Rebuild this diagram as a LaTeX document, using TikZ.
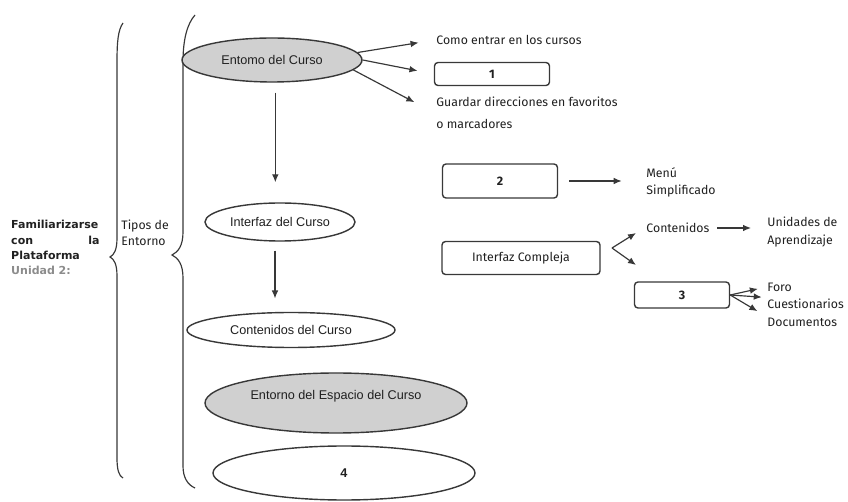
\documentclass[tikz,border=0pt]{standalone}
\usepackage{fontspec}
\setmainfont{Liberation Sans}
\newfontfamily\humfont{Fira Sans}
\newfontfamily\anchafont{DejaVu Sans}
\usetikzlibrary{arrows.meta,positioning,shapes.geometric}
\definecolor{lineGray}{HTML}{383838}
\definecolor{fillGray}{HTML}{D0D0D0}
\definecolor{textGray}{HTML}{202020}
\definecolor{softGray}{HTML}{8C8C8C}
\tikzset{
    elipse/.style={
        ellipse,
        draw=lineGray,
        line width=1.2pt,
        fill=white,
        align=center,
        inner sep=0pt,
        text=textGray,
        font=\fontsize{10.8}{13}\selectfont
    },
    elipsegris/.style={
        elipse,
        fill=fillGray
    },
    caja/.style={
        rectangle,
        rounded corners=3pt,
        draw=lineGray,
        line width=1.2pt,
        align=center,
        inner sep=0pt,
        text=textGray,
        font=\humfont\fontsize{10.5}{12}\selectfont
    },
    texto/.style={
        align=left,
        inner sep=1pt,
        text=textGray,
        font=\humfont\fontsize{10.5}{15}\selectfont
    },
    arrow/.style={-{Latex[length=2.4mm,width=2mm]},line width=1pt,draw=lineGray},
    llave/.style={draw=lineGray,line width=1pt}
}

\begin{document}
\begin{tikzpicture}[x=0.3mm,y=-0.3mm]
    \useasboundingbox (0,0) rectangle (848,502);

    % llaves
    \draw[llave] (123,23) .. controls (118,30) and (117,42) .. (117,62)
        -- (117,238) .. controls (117,250) and (114,255) .. (110,257)
        .. controls (114,259) and (117,264) .. (117,276)
        -- (117,458) .. controls (117,470) and (119,476) .. (123,478);
    \draw[llave] (195,15) .. controls (187,24) and (183,40) .. (183,62)
        -- (183,232) .. controls (183,246) and (178,252) .. (172,255)
        .. controls (178,258) and (183,264) .. (183,278)
        -- (183,466) .. controls (183,478) and (188,485) .. (195,488);

    % textos de la izquierda
    \node[align=left, inner sep=0pt, text width=26.5mm, anchor=north west,
          font=\anchafont\bfseries\fontsize{9.4}{13.2}\selectfont, text=textGray]
        (titulo) at (11,220)
        {Familiarizarse\\
         \makebox[26.5mm][s]{con\hfill la}\\
         Plataforma\\
         {\color{softGray}Unidad 2:}};
    \node[texto, font=\humfont\fontsize{10.5}{13.5}\selectfont, anchor=north west]
        (tipos) at (120,219) {Tipos de\\Entorno};

    % elipses
    \node[elipsegris, minimum width=54mm, minimum height=13.2mm]
        (entCurso) at (272,60) {Entomo del Curso};
    \node[elipse, minimum width=45mm, minimum height=11.4mm]
        (intCurso) at (280,222) {Interfaz del Curso};
    \node[elipse, minimum width=62.4mm, minimum height=10.5mm]
        (contCurso) at (291,330) {Contenidos del Curso};
    \node[elipsegris, minimum width=78.6mm, minimum height=18mm]
        (espCurso) at (336,403) {\raisebox{5mm}{Entorno del Espacio del Curso}};
    \node[elipse, minimum width=78.6mm, minimum height=16.2mm]
        (cuatro) at (344,473) {\textbf{4}};

    % primer grupo
    \node[texto, anchor=west] (comoEntrar) at (435,40) {Como entrar en los cursos};
    \node[caja, minimum width=34.5mm, minimum height=6.9mm]
        (uno) at (492,74) {\textbf{1}};
    \node[texto, font=\humfont\fontsize{10.5}{18.5}\selectfont, anchor=north west]
        (guardar) at (435,96) {Guardar direcciones en favoritos\\o marcadores};

    % interfaz simplificada y compleja
    \node[caja, minimum width=34.5mm, minimum height=10.2mm]
        (dos) at (500,181) {\textbf{2}};
    \node[texto, anchor=north west] (menu) at (645,166) {Menú\\Simplificado};
    \node[caja, minimum width=47.4mm, minimum height=9.9mm]
        (compleja) at (521,258) {Interfaz Compleja};
    \node[texto, anchor=west] (contenidos) at (645,228) {Contenidos};
    \node[texto, anchor=north west] (unidades) at (766,216) {Unidades de\\Aprendizaje};
    \node[caja, minimum width=28.5mm, minimum height=7.8mm]
        (tres) at (682,295) {\textbf{3}};
    \node[texto, anchor=west] (foro) at (766,287) {Foro};
    \node[texto, anchor=west] (cuest) at (766,304) {Cuestionarios};
    \node[texto, anchor=west] (docs) at (766,322) {Documentos};

    \coordinate (ramaIC) at (612,248);
    \coordinate (ramaA) at (636,233);
    \coordinate (ramaB) at (636,265);

    \draw[arrow, shorten >=5mm] (entCurso.5) -- (comoEntrar.west);
    \draw[arrow, shorten >=5mm] (entCurso.east) -- (uno.west);
    \draw[arrow, shorten >=7mm] (entCurso.-7) -- (guardar.west);
    \draw[arrow, shorten <=3mm, shorten >=6mm] ([xshift=1mm]entCurso.south) -- ([xshift=1mm]entCurso.south |- intCurso.north);
    \draw[arrow, shorten <=2.7mm, shorten >=4mm] ([xshift=-1.5mm]intCurso.south) -- ([xshift=-1.5mm]intCurso.south |- contCurso.north);
    \draw[arrow, shorten <=3.3mm, shorten >=7mm] (dos.east) -- (dos.east -| menu.west);
    \draw[arrow] (ramaIC) -- (ramaA);
    \draw[arrow] (ramaIC) -- (ramaB);
    \draw[arrow, shorten <=2mm, shorten >=4.5mm] (contenidos.east) -- (contenidos.east -| unidades.west);
    \draw[arrow, shorten >=2.5mm] (tres.east) -- (foro.west);
    \draw[arrow, shorten >=2.5mm] (tres.east) -- (cuest.170);
    \draw[arrow, shorten >=3mm] (tres.east) -- (docs.north west);
\end{tikzpicture}
\end{document}
